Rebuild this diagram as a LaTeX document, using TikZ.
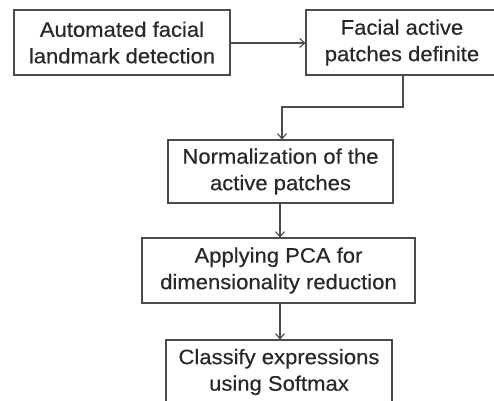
\documentclass[tikz,border=0pt]{standalone}
\usepackage{fontspec}
\setmainfont{Liberation Sans}[FakeStretch=1.05,FakeBold=0.3]
\usetikzlibrary{arrows.meta}
\definecolor{linegray}{RGB}{75,75,75}
\definecolor{textgray}{RGB}{40,40,40}
\begin{document}
\begin{tikzpicture}[x=1pt,y=-1pt,
  stepbox/.style={draw=linegray,line width=1.1pt,fill=white,inner sep=0pt,
    align=center,text=textgray,font=\fontsize{21}{26.5}\selectfont},
  flow/.style={draw=linegray,line width=1.1pt,-{Straight Barb[length=5pt,width=9pt]}}]
\useasboundingbox (0,0) rectangle (494,400);
\fill[white] (0,0) rectangle (494,400);
\node[stepbox,minimum width=216pt,minimum height=65pt] (b1) at (122,42.5) {Automated facial\\landmark detection};
\node[stepbox,minimum width=192pt,minimum height=65pt] (b2) at (402,42.5) {Facial active\\patches definite};
\node[stepbox,minimum width=225pt,minimum height=63pt] (b3) at (280.5,171.5) {Normalization of the\\active patches};
\node[stepbox,minimum width=273pt,minimum height=65pt] (b4) at (278.5,270.5) {Applying PCA for\\dimensionality reduction};
\node[stepbox,minimum width=226pt,minimum height=64pt] (b5) at (279,372) {Classify expressions\\using Softmax};
\coordinate (c1) at (403,75);
\coordinate (c2) at (403,107);
\coordinate (c3) at (282,107);
\draw[flow] (b1.east |- 0,43) -- (b2.west |- 0,43);
\draw[flow] (c1) -- (c2) -- (c3) -- (c3 |- b3.north);
\draw[flow] (b3.south -| 280,0) -- (b4.north -| 280,0);
\draw[flow] (b4.south -| 280,0) -- (b5.north -| 280,0);
\end{tikzpicture}
\end{document}
